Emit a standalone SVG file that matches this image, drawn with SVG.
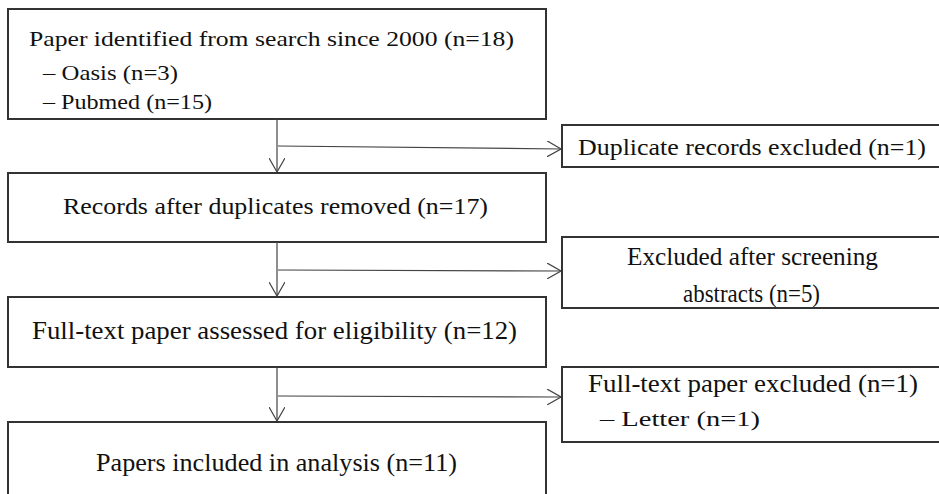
<svg xmlns="http://www.w3.org/2000/svg" width="939" height="494" viewBox="0 0 939 494">
  <style>
    .box { fill: #ffffff; stroke: #333333; stroke-width: 2; }
    .link { fill: none; stroke: #444444; stroke-width: 1.2; }
    .t { font-family: "Liberation Serif", "Noto Sans CJK KR", serif; font-size: 22px; fill: #111111; }
    .m { font-size: 24px; }
    .n { font-size: 25px; }
  </style>
  <defs>
    <marker id="vhead" viewBox="0 0 14 16" refX="14" refY="8" markerWidth="14" markerHeight="16" markerUnits="userSpaceOnUse" orient="auto">
      <path d="M0,0 L14,8 L0,16" fill="none" stroke="#444444" stroke-width="1.2"/>
    </marker>
  </defs>
  <rect width="939" height="494" fill="#ffffff"/>

  <g id="identified">
    <rect class="box" x="8" y="9" width="538" height="110"/>
    <text class="t" x="29" y="46" textLength="485" lengthAdjust="spacingAndGlyphs">Paper identified from search since 2000 (n=18)</text>
    <text class="t" x="43" y="80" font-size="20" textLength="135" lengthAdjust="spacingAndGlyphs">– Oasis (n=3)</text>
    <text class="t" x="43" y="109" font-size="20" textLength="169" lengthAdjust="spacingAndGlyphs">– Pubmed (n=15)</text>
  </g>

  <g id="duplicates-excluded">
    <rect class="box" x="562" y="125" width="400" height="42"/>
    <text class="t m" x="578" y="155" textLength="348" lengthAdjust="spacingAndGlyphs">Duplicate records excluded (n=1)</text>
  </g>

  <g id="records">
    <rect class="box" x="8" y="173" width="538" height="69"/>
    <text class="t m" x="63" y="214" textLength="425" lengthAdjust="spacingAndGlyphs">Records after duplicates removed (n=17)</text>
  </g>

  <g id="screening-excluded">
    <rect class="box" x="562" y="237" width="400" height="71"/>
    <text class="t n" x="627" y="265" textLength="251" lengthAdjust="spacingAndGlyphs">Excluded after screening</text>
    <text class="t n" x="683" y="302" textLength="137" lengthAdjust="spacingAndGlyphs">abstracts (n=5)</text>
  </g>

  <g id="assessed">
    <rect class="box" x="8" y="297" width="538" height="70"/>
    <text class="t n" x="32" y="339" textLength="485" lengthAdjust="spacingAndGlyphs">Full-text paper assessed for eligibility (n=12)</text>
  </g>

  <g id="fulltext-excluded">
    <rect class="box" x="562" y="367" width="400" height="75"/>
    <text class="t n" x="588" y="392" textLength="330" lengthAdjust="spacingAndGlyphs">Full-text paper excluded (n=1)</text>
    <text class="t" x="600" y="426" font-size="21" textLength="160" lengthAdjust="spacingAndGlyphs">– Letter (n=1)</text>
  </g>

  <g id="included">
    <rect class="box" x="8" y="422" width="538" height="100"/>
    <text class="t n" x="96" y="471" textLength="361" lengthAdjust="spacingAndGlyphs">Papers included in analysis (n=11)</text>
  </g>

  <g id="connectors">
    <line class="link" x1="277" y1="119" x2="277" y2="172" marker-end="url(#vhead)"/>
    <line class="link" x1="278" y1="146" x2="561" y2="149" marker-end="url(#vhead)"/>
    <line class="link" x1="277" y1="242" x2="277" y2="296" marker-end="url(#vhead)"/>
    <line class="link" x1="278" y1="270" x2="561" y2="271" marker-end="url(#vhead)"/>
    <line class="link" x1="277" y1="367" x2="277" y2="421" marker-end="url(#vhead)"/>
    <line class="link" x1="278" y1="396" x2="561" y2="397" marker-end="url(#vhead)"/>
  </g>
</svg>
